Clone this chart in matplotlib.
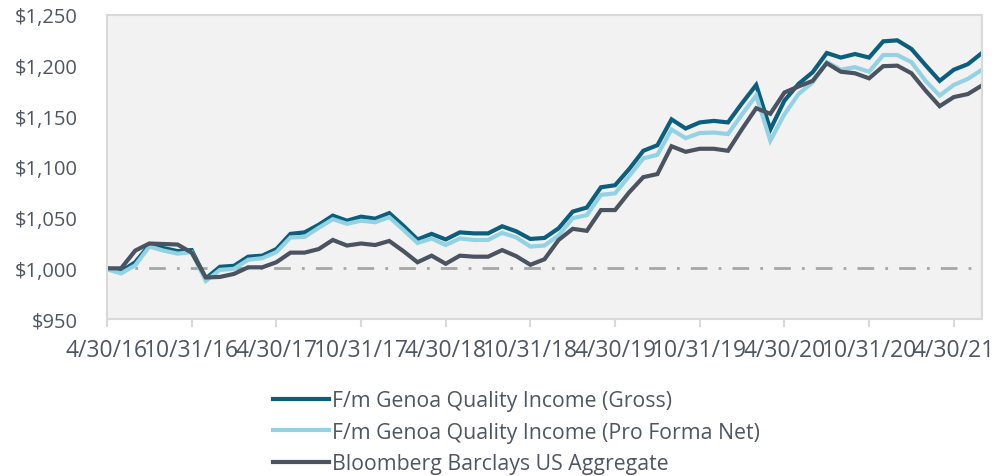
import matplotlib

matplotlib.use("Agg")
import matplotlib.pyplot as plt
import numpy as np
import pandas as pd

# monthly month-end dates, 4/30/16 .. 6/30/21
dates = pd.date_range("2016-04-30", "2021-06-30", freq="ME")

gross = [1000, 997, 1006, 1023, 1020, 1017, 1018, 990, 1001.5, 1002.5,
         1011.5, 1012.5, 1019, 1034, 1035.5, 1043, 1052, 1047, 1051, 1049,
         1054.5, 1042, 1028.5, 1034, 1028.5, 1035.5, 1034.5, 1034.5, 1041.5, 1036.5,
         1029, 1030, 1039.5, 1056, 1060, 1080, 1082, 1098, 1116, 1121.5,
         1147, 1138, 1144, 1145.5, 1144, 1163, 1181, 1137, 1165.5, 1182,
         1193.5, 1212.5, 1208, 1211.5, 1208, 1224, 1225, 1216.5, 1200.5, 1185,
         1196, 1201.5, 1212.5]
net = [999, 995, 1003, 1021.5, 1017.5, 1014.5, 1016, 987.5, 998.5, 999.5,
       1008.5, 1010, 1016, 1030.5, 1031, 1040, 1048.5, 1044, 1047, 1045.5,
       1050.5, 1038, 1025, 1029.5, 1023, 1029.5, 1028, 1028, 1035, 1030.5,
       1021.5, 1022.5, 1032.5, 1049.5, 1052.5, 1072.5, 1074, 1091, 1108.5, 1112,
       1137, 1128.5, 1133.5, 1134, 1132.5, 1152, 1170.5, 1126, 1152, 1172,
       1183.5, 1203.5, 1196, 1198.5, 1194, 1210.5, 1210.5, 1203.5, 1185, 1170.5,
       1181, 1187, 1196]
bench = [1000, 1000, 1017.5, 1024.5, 1024, 1023.5, 1015.5, 991, 991.5, 994.5,
         1001, 1001, 1006, 1015.5, 1015.5, 1019, 1028, 1022.5, 1024.5, 1023,
         1027, 1017, 1006, 1012.5, 1004.5, 1012.5, 1011.5, 1011.5, 1018, 1012,
         1003.5, 1009, 1028, 1039, 1037, 1057.5, 1057.5, 1075, 1090, 1093,
         1120.5, 1115, 1118, 1118, 1116, 1137.5, 1158, 1152.5, 1173.5, 1179.5,
         1185, 1202.5, 1194, 1192.5, 1187.5, 1199.5, 1200, 1192.5, 1175.5, 1160,
         1169, 1172, 1180.5]

series = [
    ("F/m Genoa Quality Income (Gross)", gross, "#0B5F7C"),
    ("F/m Genoa Quality Income (Pro Forma Net)", net, "#93D2E3"),
    ("Bloomberg Barclays US Aggregate", bench, "#4B5361"),
]
baseline = 1000
yticks = [950, 1000, 1050, 1100, 1150, 1200, 1250]

TXT = "#4F5661"
plt.rcParams["font.family"] = ["Open Sans", "DejaVu Sans"]

fig = plt.figure(figsize=(10.06, 4.77), dpi=100)
ax = fig.add_axes([107 / 1006, 1 - 320 / 477, 875 / 1006, 304 / 477])
ax.set_facecolor("#F2F2F2")

x = np.arange(len(dates))
ax.axhline(baseline, color="#A6A6A6", lw=2.0, ls=(0, (6, 4, 1, 4)), zorder=1)
for name, vals, col in series:
    ax.plot(x, vals, color=col, lw=3.0, label=name, zorder=2,
            solid_joinstyle="miter")

ax.set_xlim(0, len(dates) - 1)
ax.set_ylim(950, 1250)
ax.set_yticks(yticks)
ax.set_yticklabels([f"${v:,}" for v in yticks])
tick_idx = x[::6]
ax.set_xticks(tick_idx)
ax.set_xticklabels([f"{d.month}/{d.day}/{d:%y}" for d in dates[tick_idx]])

for s in ax.spines.values():
    s.set_color("#D9D9D9")
    s.set_linewidth(1.5)
ax.tick_params(axis="y", length=0, pad=21, labelsize=14.5, labelcolor=TXT)
ax.tick_params(axis="x", length=6, width=1.5, color="#D9D9D9", pad=8,
               labelsize=16.5, labelcolor=TXT)

leg = fig.legend(loc="upper left", bbox_to_anchor=(273 / 1006, 1 - 391 / 477),
                 frameon=False, fontsize=15.3, handlelength=2.65,
                 handletextpad=0.15, labelspacing=0.5, borderpad=0,
                 borderaxespad=0)
for t in leg.get_texts():
    t.set_color(TXT)
for h in leg.get_lines():
    h.set_linewidth(3.0)

fig.savefig("out.png", dpi=100)
